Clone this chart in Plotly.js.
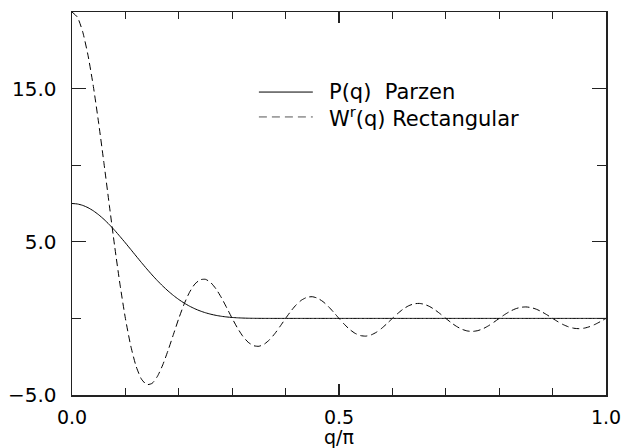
<!DOCTYPE html>
<html>
<head>
<meta charset="utf-8">
<script src="https://cdn.plot.ly/plotly-3.0.1.min.js"></script>
<style>html,body{margin:0;padding:0;background:#fff;}#chart{width:636px;height:448px;}</style>
</head>
<body>
<div id="chart"></div>
<script>
// q/pi sample positions
var q = [0,0.01,0.02,0.03,0.04,0.05,0.06,0.07,0.08,0.09,
  0.10,0.11,0.12,0.13,0.14,0.15,0.16,0.17,0.18,0.19,
  0.20,0.21,0.22,0.23,0.24,0.25,0.26,0.27,0.28,0.29,
  0.30,0.31,0.32,0.33,0.34,0.35,0.36,0.37,0.38,0.39,
  0.40,0.41,0.42,0.43,0.44,0.45,0.46,0.47,0.48,0.49,
  0.50,0.51,0.52,0.53,0.54,0.55,0.56,0.57,0.58,0.59,
  0.60,0.61,0.62,0.63,0.64,0.65,0.66,0.67,0.68,0.69,
  0.70,0.71,0.72,0.73,0.74,0.75,0.76,0.77,0.78,0.79,
  0.80,0.81,0.82,0.83,0.84,0.85,0.86,0.87,0.88,0.89,
  0.90,0.91,0.92,0.93,0.94,0.95,0.96,0.97,0.98,0.99,1.00];

// P(q) Parzen
var parzen = [7.5,7.469,7.378,7.227,7.021,6.764,6.461,6.119,5.744,5.343,
  4.928,4.502,4.072,3.648,3.233,2.837,2.461,2.110,1.787,1.494,
  1.232,1.001,0.801,0.630,0.486,0.368,0.272,0.196,0.137,0.093,
  0.061,0.038,0.022,0.012,0.006,0.003,0.001,0.0005,0,0,
  0,0,0,0,0,0,0,0,0,0,
  0,0,0,0,0,0,0,0,0,0,
  0,0,0,0,0,0,0,0,0,0,
  0,0,0,0,0,0,0,0,0,0,
  0,0,0,0,0,0,0,0,0,0,
  0,0,0,0,0,0,0,0,0,0,0];

// W^r(q) Rectangular
var rect = [20,19.67,18.71,17.17,15.14,12.73,10.09,7.36,4.68,2.19,
  0,-1.79,-3.12,-3.96,-4.32,-4.24,-3.78,-3.03,-2.08,-1.04,
  0,0.937,1.70,2.24,2.52,2.55,2.33,1.91,1.34,0.678,
  0,-0.635,-1.17,-1.56,-1.78,-1.82,-1.68,-1.39,-0.985,-0.504,
  0,0.480,0.891,1.198,1.376,1.415,1.316,1.096,0.780,0.401,
  0,-0.386,-0.720,-0.972,-1.121,-1.157,-1.081,-0.904,-0.645,-0.333,
  0,0.322,0.604,0.817,0.946,0.979,0.917,0.769,0.550,0.285,
  0,-0.277,-0.520,-0.705,-0.818,-0.849,-0.797,-0.669,-0.480,-0.249,
  0,0.243,0.456,0.620,0.721,0.749,0.704,0.592,0.425,0.221,
  0,-0.216,-0.407,-0.554,-0.644,-0.670,-0.631,-0.531,-0.382,-0.199,0];

var seriesNames = ['P(q)  Parzen', 'W<sup>r</sup>(q) Rectangular'];
var xTitle = 'q/\u03c0';

var FONT = 'DejaVu Sans, Liberation Sans, Arial, sans-serif';

var traces = [
  {x: q, y: parzen, type: 'scatter', mode: 'lines', name: seriesNames[0],
   line: {color: '#000', width: 1, shape: 'spline', smoothing: 0.6}, showlegend: false},
  {x: q, y: rect, type: 'scatter', mode: 'lines', name: seriesNames[1],
   line: {color: '#000', width: 1, dash: '7px,4px', shape: 'spline', smoothing: 0.6}, showlegend: false}
];

var layout = {
  width: 636, height: 448,
  margin: {l: 72, r: 30, t: 12, b: 53},
  paper_bgcolor: '#fff', plot_bgcolor: '#fff',
  font: {family: FONT, size: 20, color: '#000'},
  showlegend: false,
  xaxis: {
    range: [0, 1], showgrid: false, zeroline: false,
    showline: true, linecolor: '#222', linewidth: 1.5, mirror: 'ticks',
    ticks: 'inside', ticklen: 11, tickwidth: 1.2, tickcolor: '#222',
    tick0: 0, dtick: 0.5, tickformat: '.1f',
    minor: {ticks: 'inside', dtick: 0.1, tick0: 0, ticklen: 7, tickwidth: 1.2, tickcolor: '#222'},
    tickfont: {family: FONT, size: 19, color: '#000'},
    ticklabelstandoff: 5,
    title: {text: xTitle, font: {family: FONT, size: 19, color: '#000'}, standoff: 10}
  },
  yaxis: {
    range: [-5, 20], showgrid: false, zeroline: false,
    showline: true, linecolor: '#222', linewidth: 1.5, mirror: 'ticks',
    ticks: 'inside', ticklen: 14, tickwidth: 1.2, tickcolor: '#222',
    tick0: -5, dtick: 10, tickformat: '.1f',
    minor: {ticks: 'inside', dtick: 5, tick0: 0, ticklen: 9, tickwidth: 1.2, tickcolor: '#222'},
    tickfont: {family: FONT, size: 20, color: '#000'},
    ticklabelstandoff: 10
  },
  shapes: [
    {type: 'line', xref: 'paper', yref: 'paper', x0: 0.350, x1: 0.451, y0: 0.791, y1: 0.791,
     line: {color: '#000', width: 1}},
    {type: 'line', xref: 'paper', yref: 'paper', x0: 0.350, x1: 0.451, y0: 0.726, y1: 0.726,
     line: {color: '#555', width: 1, dash: '8px,5px'}}
  ],
  annotations: [
    {xref: 'paper', yref: 'paper', x: 0.477, y: 0.791, xanchor: 'left', yanchor: 'middle',
     text: seriesNames[0], showarrow: false, font: {family: FONT, size: 21, color: '#000'}},
    {xref: 'paper', yref: 'paper', x: 0.477, y: 0.726, xanchor: 'left', yanchor: 'middle',
     text: seriesNames[1], showarrow: false, font: {family: FONT, size: 21, color: '#000'}}
  ]
};

Plotly.newPlot('chart', traces, layout, {displayModeBar: false, staticPlot: true});
</script>
</body>
</html>
